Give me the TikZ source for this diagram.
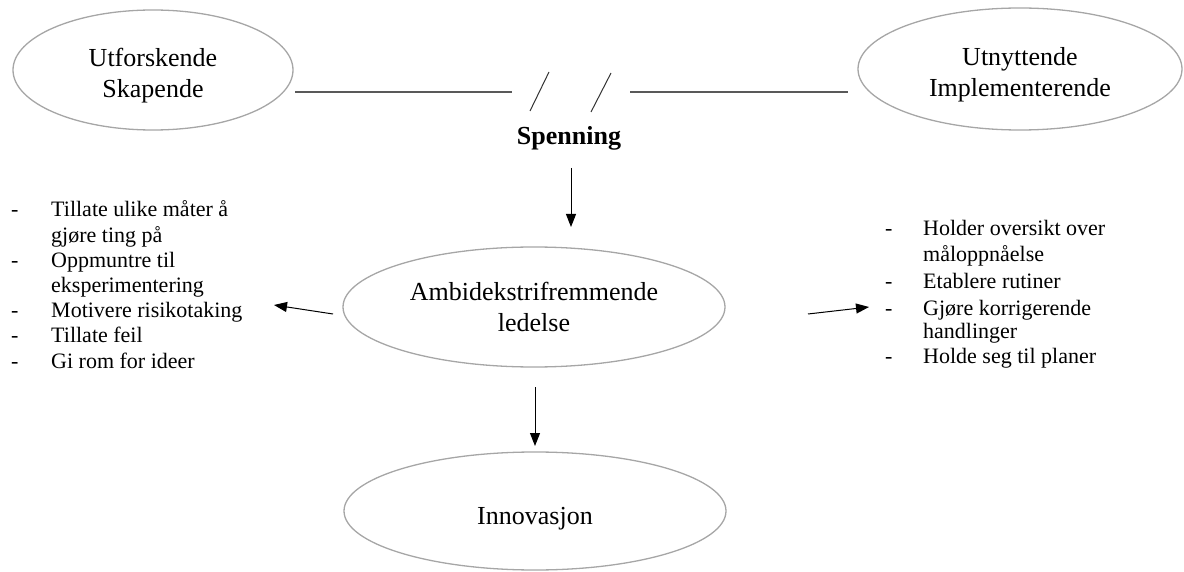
\documentclass[tikz,border=0pt]{standalone}
\usepackage{fontspec}
\setmainfont{Liberation Serif}
\usetikzlibrary{arrows.meta,shapes.geometric}
\newcommand\lowerlines[2]{\raisebox{-#1}[\height][\depth]{\begin{tabular}{@{}c@{}}#2\end{tabular}}}
\begin{document}
\begin{tikzpicture}[x=1pt,y=-1pt,
  oval/.style={ellipse,draw=black!35,line width=1.3pt,inner sep=0pt,align=center,font=\fontsize{26}{31}\selectfont},
  bar/.style={draw=black!65,line width=1.1pt},
  slash/.style={draw=black!80,line width=1pt},
  arr/.style={draw=black,line width=1pt,-{Triangle[length=13pt,width=10pt]}},
  listtext/.style={inner sep=0pt,anchor=base west,font=\fontsize{22}{25.2}\selectfont}]
\useasboundingbox (0,0) rectangle (1184,572);
\node[oval,minimum width=280,minimum height=120] (L) at (153,70) {\lowerlines{6pt}{Utforskende\\Skapende}};
\node[oval,minimum width=324,minimum height=122] (R) at (1020,69) {\lowerlines{6pt}{Utnyttende\\Implementerende}};
\node[oval,minimum width=382,minimum height=120] (A) at (534,307) {Ambidekstrifremmende\\ledelse};
\node[oval,minimum width=382,minimum height=118] (I) at (535,511) {\lowerlines{7pt}{Innovasjon}};
\node[inner sep=0pt,font=\bfseries\fontsize{26}{31}\selectfont] (S) at (569,138) {Spenning};
\coordinate (l1) at (295,92); \coordinate (l2) at (512,92);
\coordinate (r1) at (630,92); \coordinate (r2) at (848,92);
\coordinate (s1a) at (530,111); \coordinate (s1b) at (549,72);
\coordinate (s2a) at (591,112); \coordinate (s2b) at (611,73);
\draw[bar] (l1) -- (l2);
\draw[bar] (r1) -- (r2);
\draw[slash] (s1a) -- (s1b);
\draw[slash] (s2a) -- (s2b);
\coordinate (d1a) at (571,168); \coordinate (d1b) at (571,227);
\coordinate (d2a) at (535,387); \coordinate (d2b) at (535,446);
\coordinate (la) at (333,314); \coordinate (lb) at (274,305);
\coordinate (ra) at (808,314); \coordinate (rb) at (869,307);
\draw[arr] (d1a) -- (d1b);
\draw[arr] (d2a) -- (d2b);
\draw[arr] (la) -- (lb);
\draw[arr] (ra) -- (rb);
\node[listtext] (LL) at (11,217) {\begin{tabular}[t]{@{}p{40pt}@{}l@{}}
-&Tillate ulike måter å\\
&gjøre ting på\\
-&Oppmuntre til\\
&eksperimentering\\
-&Motivere risikotaking\\
-&Tillate feil\\
-&Gi rom for ideer
\end{tabular}};
\node[listtext] (RL) at (885,236) {\begin{tabular}[t]{@{}p{38pt}@{}l@{}}
-&Holder oversikt over\\
&måloppnåelse\\[2pt]
-&Etablere rutiner\\[2pt]
-&Gjøre korrigerende\\[-2pt]
&handlinger\\
-&Holde seg til planer
\end{tabular}};
\end{tikzpicture}
\end{document}
